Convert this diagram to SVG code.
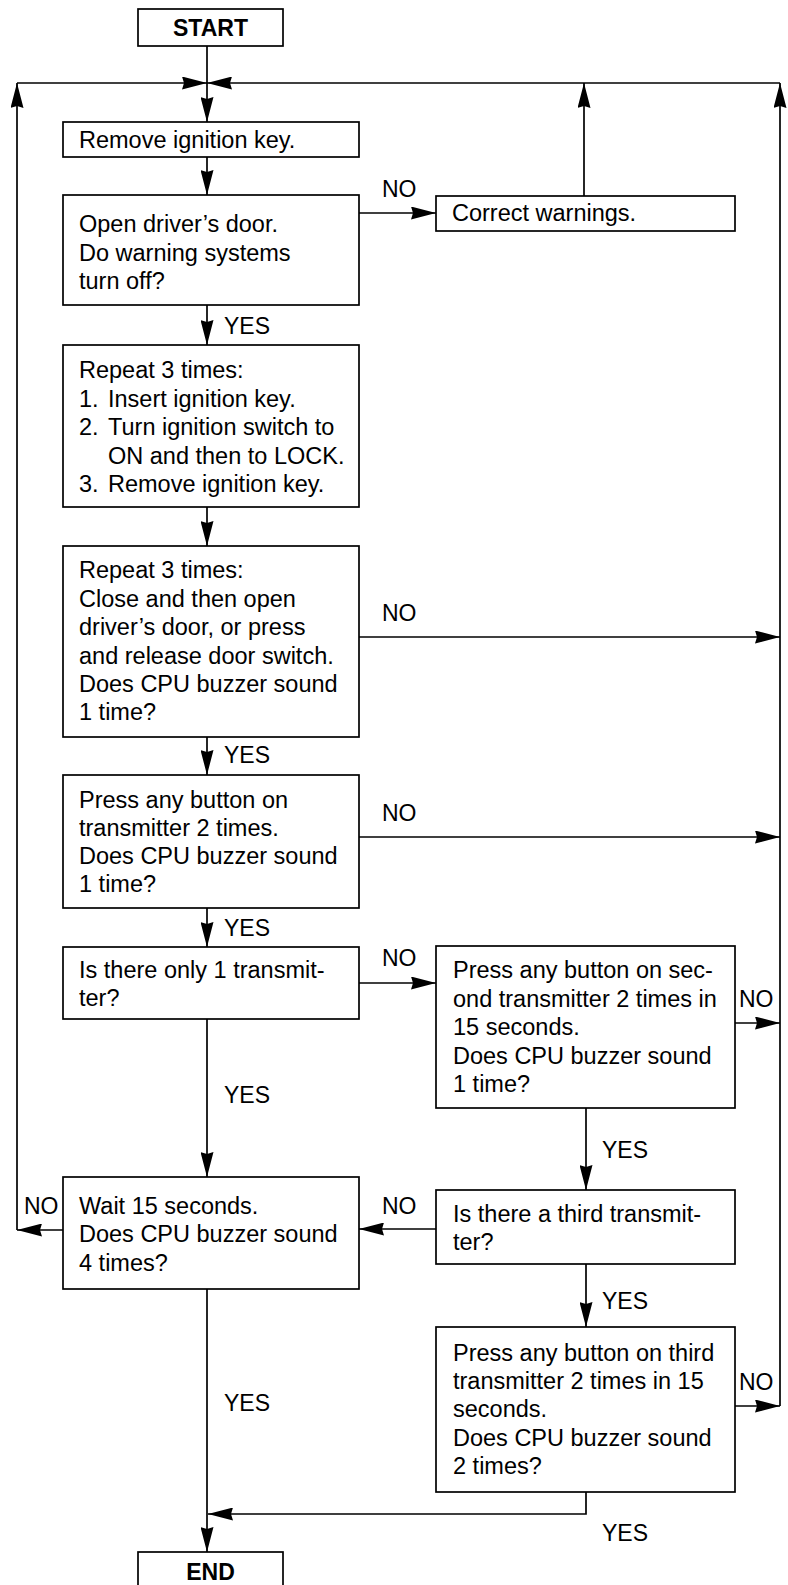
<svg xmlns="http://www.w3.org/2000/svg" width="788" height="1585" viewBox="0 0 788 1585">
<style>
  .box{fill:#fff;stroke:#000;stroke-width:1.7}
  .t{font-family:"Liberation Sans",Arial,sans-serif;font-size:23.5px;fill:#000}
  .b{font-family:"Liberation Sans",Arial,sans-serif;font-size:23px;font-weight:bold;fill:#000;text-anchor:middle}
  .lbl{font-family:"Liberation Sans",Arial,sans-serif;font-size:23px;fill:#000}
  .c{fill:none;stroke:#000;stroke-width:1.7}
</style>
<defs>
  <marker id="ah" viewBox="0 0 25 13" refX="25" refY="6.5" markerWidth="25" markerHeight="13" markerUnits="userSpaceOnUse" orient="auto">
    <path d="M0,0 L25,6.5 L0,13 L2,6.5 z" fill="#000"/>
  </marker>
</defs>
<rect width="788" height="1585" fill="#fff"/>

<g id="connectors">
  <path class="c" d="M207,46 V122" marker-end="url(#ah)"/>
  <path class="c" d="M17,1230 V83" marker-end="url(#ah)"/>
  <path class="c" d="M17,83 H207" marker-end="url(#ah)"/>
  <path class="c" d="M780,1406 V83" marker-end="url(#ah)"/>
  <path class="c" d="M780,83 H207" marker-end="url(#ah)"/>
  <path class="c" d="M584,196 V83" marker-end="url(#ah)"/>
  <path class="c" d="M207,157 V195" marker-end="url(#ah)"/>
  <path class="c" d="M359,213 H436" marker-end="url(#ah)"/>
  <path class="c" d="M207,305 V345" marker-end="url(#ah)"/>
  <path class="c" d="M207,507 V546" marker-end="url(#ah)"/>
  <path class="c" d="M359,637 H780" marker-end="url(#ah)"/>
  <path class="c" d="M207,737 V775" marker-end="url(#ah)"/>
  <path class="c" d="M359,837 H780" marker-end="url(#ah)"/>
  <path class="c" d="M207,908 V947" marker-end="url(#ah)"/>
  <path class="c" d="M359,983 H436" marker-end="url(#ah)"/>
  <path class="c" d="M735,1023 H780" marker-end="url(#ah)"/>
  <path class="c" d="M207,1019 V1177" marker-end="url(#ah)"/>
  <path class="c" d="M586,1108 V1190" marker-end="url(#ah)"/>
  <path class="c" d="M436,1229 H359" marker-end="url(#ah)"/>
  <path class="c" d="M586,1264 V1327" marker-end="url(#ah)"/>
  <path class="c" d="M735,1406 H780" marker-end="url(#ah)"/>
  <path class="c" d="M586,1492 V1514 H208" marker-end="url(#ah)"/>
  <path class="c" d="M207,1289 V1552" marker-end="url(#ah)"/>
  <path class="c" d="M63,1230 H17" marker-end="url(#ah)"/>
</g>

<g id="labels">
  <text class="lbl" x="382" y="197">NO</text>
  <text class="lbl" x="224" y="334">YES</text>
  <text class="lbl" x="382" y="621">NO</text>
  <text class="lbl" x="224" y="763">YES</text>
  <text class="lbl" x="382" y="821">NO</text>
  <text class="lbl" x="224" y="936">YES</text>
  <text class="lbl" x="382" y="966">NO</text>
  <text class="lbl" x="739" y="1007">NO</text>
  <text class="lbl" x="224" y="1103">YES</text>
  <text class="lbl" x="602" y="1158">YES</text>
  <text class="lbl" x="24" y="1214">NO</text>
  <text class="lbl" x="382" y="1214">NO</text>
  <text class="lbl" x="602" y="1309">YES</text>
  <text class="lbl" x="739" y="1390">NO</text>
  <text class="lbl" x="224" y="1411">YES</text>
  <text class="lbl" x="602" y="1541">YES</text>
</g>

<g id="start">
  <rect class="box" x="138" y="9" width="145" height="37"/>
  <text class="b" x="210.5" y="36">START</text>
</g>

<g id="remove-key">
  <rect class="box" x="63" y="122" width="296" height="35"/>
  <text class="t" x="79" y="148">Remove ignition key.</text>
</g>

<g id="open-door">
  <rect class="box" x="63" y="195" width="296" height="110"/>
  <text class="t" x="79" y="232">Open driver’s door.</text>
  <text class="t" x="79" y="260.5">Do warning systems</text>
  <text class="t" x="79" y="289">turn off?</text>
</g>

<g id="correct-warnings">
  <rect class="box" x="436" y="196" width="299" height="35"/>
  <text class="t" x="452" y="221">Correct warnings.</text>
</g>

<g id="repeat-key">
  <rect class="box" x="63" y="345" width="296" height="162"/>
  <text class="t" x="79" y="378">Repeat 3 times:</text>
  <text class="t" x="79" y="406.5">1.</text>
  <text class="t" x="108" y="406.5">Insert ignition key.</text>
  <text class="t" x="79" y="435">2.</text>
  <text class="t" x="108" y="435">Turn ignition switch to</text>
  <text class="t" x="108" y="463.5">ON and then to LOCK.</text>
  <text class="t" x="79" y="492">3.</text>
  <text class="t" x="108" y="492">Remove ignition key.</text>
</g>

<g id="repeat-door">
  <rect class="box" x="63" y="546" width="296" height="191"/>
  <text class="t" x="79" y="578">Repeat 3 times:</text>
  <text class="t" x="79" y="606.5">Close and then open</text>
  <text class="t" x="79" y="635">driver’s door, or press</text>
  <text class="t" x="79" y="663.5">and release door switch.</text>
  <text class="t" x="79" y="692">Does CPU buzzer sound</text>
  <text class="t" x="79" y="720">1 time?</text>
</g>

<g id="press-transmitter">
  <rect class="box" x="63" y="775" width="296" height="133"/>
  <text class="t" x="79" y="807.5">Press any button on</text>
  <text class="t" x="79" y="836">transmitter 2 times.</text>
  <text class="t" x="79" y="864">Does CPU buzzer sound</text>
  <text class="t" x="79" y="892">1 time?</text>
</g>

<g id="only-one">
  <rect class="box" x="63" y="947" width="296" height="72"/>
  <text class="t" x="79" y="978">Is there only 1 transmit-</text>
  <text class="t" x="79" y="1006">ter?</text>
</g>

<g id="second-transmitter">
  <rect class="box" x="436" y="946" width="299" height="162"/>
  <text class="t" x="453" y="978">Press any button on sec-</text>
  <text class="t" x="453" y="1006.5">ond transmitter 2 times in</text>
  <text class="t" x="453" y="1035">15 seconds.</text>
  <text class="t" x="453" y="1063.5">Does CPU buzzer sound</text>
  <text class="t" x="453" y="1092">1 time?</text>
</g>

<g id="wait">
  <rect class="box" x="63" y="1177" width="296" height="112"/>
  <text class="t" x="79" y="1213.5">Wait 15 seconds.</text>
  <text class="t" x="79" y="1242">Does CPU buzzer sound</text>
  <text class="t" x="79" y="1270.5">4 times?</text>
</g>

<g id="third-exists">
  <rect class="box" x="436" y="1190" width="299" height="74"/>
  <text class="t" x="453" y="1221.5">Is there a third transmit-</text>
  <text class="t" x="453" y="1250">ter?</text>
</g>

<g id="third-transmitter">
  <rect class="box" x="436" y="1327" width="299" height="165"/>
  <text class="t" x="453" y="1360.5">Press any button on third</text>
  <text class="t" x="453" y="1389">transmitter 2 times in 15</text>
  <text class="t" x="453" y="1417">seconds.</text>
  <text class="t" x="453" y="1445.5">Does CPU buzzer sound</text>
  <text class="t" x="453" y="1474">2 times?</text>
</g>

<g id="end">
  <rect class="box" x="138" y="1552" width="145" height="50"/>
  <text class="b" x="210.5" y="1580">END</text>
</g>
</svg>
